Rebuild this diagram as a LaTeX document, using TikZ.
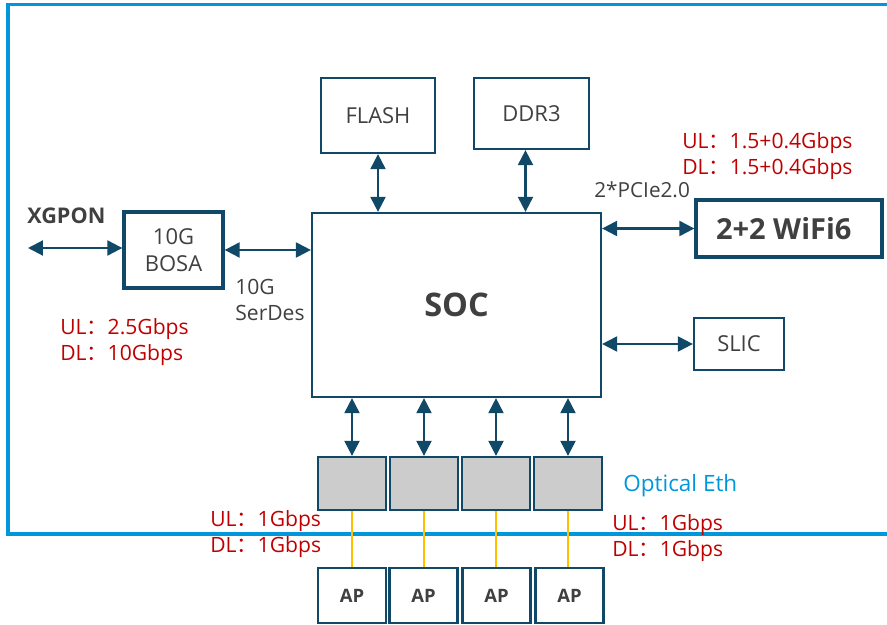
\documentclass[tikz,border=0pt]{standalone}
\usepackage{fontspec}
\setmainfont{Open Sans}
\newfontfamily\cjk{Noto Sans CJK SC}
\usetikzlibrary{arrows.meta, positioning, calc}
\definecolor{frameblue}{RGB}{0,150,220}
\definecolor{linedark}{RGB}{16,72,104}
\definecolor{txtgray}{RGB}{64,64,64}
\definecolor{rate}{RGB}{192,0,0}
\definecolor{fiber}{RGB}{255,192,0}
\definecolor{portgray}{RGB}{204,204,204}
\newcommand{\fc}{{\cjk ：}}

\tikzset{
  blk/.style={draw=linedark, line width=1.3pt, fill=white, text=txtgray,
              font=\fontsize{12.5}{15}\selectfont, align=center, inner sep=0pt},
  thickblk/.style={blk, line width=1.9pt},
  port/.style={blk, fill=portgray},
  apbox/.style={blk, font=\fontsize{10.5}{12}\selectfont\bfseries},
  biarrow/.style={draw=linedark, line width=1.2pt,
                  {Triangle[length=8.5pt,width=8.5pt]}-{Triangle[length=8.5pt,width=8.5pt]}},
  fiberline/.style={draw=fiber, line width=1.2pt},
  ratelbl/.style={text=rate, font=\fontsize{12}{14.7}\selectfont, align=left, inner sep=0pt, anchor=north west},
  note/.style={text=txtgray, font=\fontsize{12}{14.5}\selectfont, align=left, inner sep=0pt}
}

\begin{document}
\begin{tikzpicture}[x=0.02cm, y=-0.02cm]
  \useasboundingbox (0,0) rectangle (887,625);

  % outer board frame
  \draw[frameblue, line width=2.2pt] (900,4.5) -- (8,4.5) -- (8,534) -- (900,534);

  % main blocks
  \node[blk, minimum width=2.28cm, minimum height=1.5cm] (flash) at (378,115.5) {FLASH};
  \node[blk, minimum width=2.3cm, minimum height=1.42cm] (ddr) at (531.5,113.5) {DDR3};
  \node[blk, minimum width=5.78cm, minimum height=3.68cm,
        font=\fontsize{18.5}{20}\selectfont\bfseries] (soc) at (456.5,305) {SOC};
  \node[thickblk, minimum width=1.98cm, minimum height=1.52cm] (bosa) at (173.5,250) {10G\\BOSA};
  \node[thickblk, minimum width=3.72cm, minimum height=1.14cm,
        font=\fontsize{16.5}{18}\selectfont\bfseries] (wifi) at (789,228.5) {2+2 WiFi6\hspace{6pt}};
  \node[blk, minimum width=1.8cm, minimum height=1.04cm] (slic) at (739,344) {SLIC};

  % optical ethernet ports and APs
  \foreach \i/\px/\ax in {1/352/352, 2/424/423.5, 3/496/496.5, 4/568/569.5} {
    \node[port, minimum width=1.36cm, minimum height=1.06cm] (eth\i) at (\px,483.5) {};
    \node[apbox, minimum width=1.36cm, minimum height=1.1cm] (ap\i) at (\ax,595.5) {AP};
    \draw[biarrow] (eth\i.north |- soc.south) -- (eth\i.north);
    \draw[fiberline] (eth\i.south) -- (eth\i.south |- ap\i.north);
  }

  % links
  \coordinate (pon) at (28,248);
  \draw[biarrow] (pon) -- (bosa.west |- pon);
  \draw[biarrow] (bosa.east) -- (bosa.east -| soc.west);
  \draw[biarrow] (flash.south) -- (flash.south |- soc.north);
  \draw[biarrow] ($(ddr.south)+(-6,0)$) -- ($(ddr.south |- soc.north)+(-6,0)$);
  \draw[biarrow] (wifi.west -| soc.east) -- (wifi.west);
  \draw[biarrow] (slic.west -| soc.east) -- (slic.west);

  % labels
  \node[note, font=\fontsize{12.3}{14}\selectfont\bfseries, anchor=west] (xgpon) at (27,216) {XGPON};
  \node[note, anchor=north west] (serdes) at (235,279) {10G\\SerDes};
  \node[note, font=\fontsize{11.8}{14}\selectfont, anchor=west] (pcie) at (594,190) {2*PCIe2.0};
  \node[note, text=frameblue, font=\fontsize{12.8}{14}\selectfont, anchor=west] (opteth) at (623,486) {Optical Eth};
  \node[ratelbl] (rpon) at (60,318) {UL\fc 2.5Gbps\\DL\fc 10Gbps};
  \node[ratelbl] (rwifi) at (682,132) {UL\fc 1.5+0.4Gbps\\DL\fc 1.5+0.4Gbps};
  \node[ratelbl] (reth1) at (210,510) {UL\fc 1Gbps\\DL\fc 1Gbps};
  \node[ratelbl] (reth2) at (612,514) {UL\fc 1Gbps\\DL\fc 1Gbps};
\end{tikzpicture}
\end{document}
